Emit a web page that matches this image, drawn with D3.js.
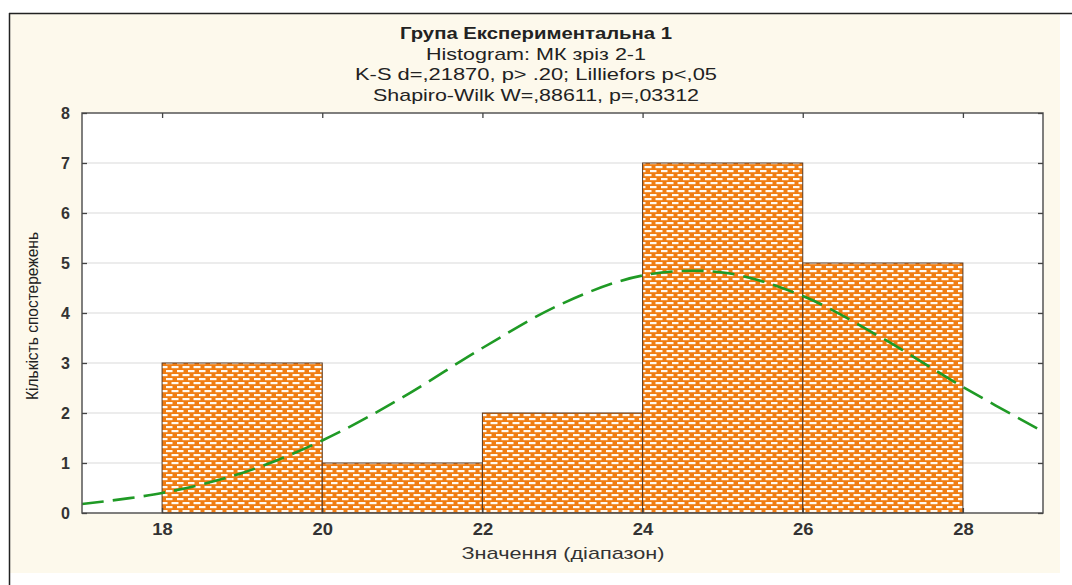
<!DOCTYPE html>
<html>
<head>
<meta charset="utf-8">
<script src="https://cdn.jsdelivr.net/npm/d3@7"></script>
<style>
  body { margin: 0; background: #fff; }
  svg { display: block; }
  text { font-family: "Liberation Sans", Arial, sans-serif; }
</style>
</head>
<body>
<div class="wrap"></div>
<script>
// histogram bins (lower edge, upper edge, count)
const binStart = [18, 20, 22, 24, 26]
const binEnd = [20, 22, 24, 26, 28]
const binCount = [3, 1, 2, 7, 5]

// expected normal curve
const curveX = [17, 18, 19, 20, 21, 22, 23, 24, 25, 26, 27, 28, 29]
const curveY = [0.18, 0.40, 0.80, 1.45, 2.31, 3.30, 4.19, 4.75, 4.81, 4.34, 3.49, 2.52, 1.63]

const xTicks = [18, 20, 22, 24, 26, 28]
const yTicks = [0, 1, 2, 3, 4, 5, 6, 7, 8]

const titleLines = [
  'Група Експериментальна 1',
  'Histogram: МК зріз 2-1',
  'K-S d=,21870, p> .20; Lilliefors p<,05',
  'Shapiro-Wilk W=,88611, p=,03312'
]
const xTitle = 'Значення (діапазон)'
const yTitle = 'Кількість спостережень'

const width = 1072, height = 585
const plot = {left: 82, right: 1043, top: 113, bottom: 513}

// the source picture is stretched sideways, so texts get a fixed length
const titleLen = [272, 220, 362, 326]

let svg = d3.select('.wrap').append('svg')
  .attr('width', width)
  .attr('height', height)

// pattern for the bars: orange with white brick dashes
let defs = svg.append('defs')
let pat = defs.append('pattern')
  .attr('id', 'brick')
  .attr('patternUnits', 'userSpaceOnUse')
  .attr('x', 0).attr('y', 1)
  .attr('width', 11)
  .attr('height', 8)
pat.append('rect').attr('width', 11).attr('height', 8).attr('fill', '#f07d12')
pat.append('rect').attr('x', 1).attr('y', 1).attr('width', 6.5).attr('height', 2.2).attr('fill', '#fffaf2')
pat.append('rect').attr('x', 6.5).attr('y', 5).attr('width', 6.5).attr('height', 2.2).attr('fill', '#fffaf2')
pat.append('rect').attr('x', -4).attr('y', 5).attr('width', 6.5).attr('height', 2.2).attr('fill', '#fffaf2')

// cream panel + frame lines
svg.append('rect')
  .attr('x', 9).attr('y', 13)
  .attr('width', 1051).attr('height', 560)
  .attr('fill', '#fdf9ec')
svg.append('line')
  .attr('x1', 9).attr('x2', 1072).attr('y1', 13.5).attr('y2', 13.5)
  .attr('stroke', '#222').attr('stroke-width', 1.5)
svg.append('line')
  .attr('x1', 9.5).attr('x2', 9.5).attr('y1', 13).attr('y2', 585)
  .attr('stroke', '#222').attr('stroke-width', 1.5)

let x = d3.scaleLinear().domain([17, 29]).range([plot.left, plot.right])
let y = d3.scaleLinear().domain([0, 8]).range([plot.bottom, plot.top])

// plot background
svg.append('rect')
  .attr('x', plot.left).attr('y', plot.top)
  .attr('width', plot.right - plot.left).attr('height', plot.bottom - plot.top)
  .attr('fill', '#fff')

// grid
svg.append('g')
  .selectAll('line')
  .data(yTicks.slice(1, -1))
  .enter()
  .append('line')
  .attr('x1', plot.left).attr('x2', plot.right)
  .attr('y1', d => y(d)).attr('y2', d => y(d))
  .attr('stroke', '#d9d9d9')
  .attr('stroke-width', 1.2)

// bars
svg.append('g')
  .selectAll('rect')
  .data(binCount)
  .enter()
  .append('rect')
  .attr('x', (d, i) => x(binStart[i]))
  .attr('width', (d, i) => x(binEnd[i]) - x(binStart[i]))
  .attr('y', d => y(d))
  .attr('height', d => y(0) - y(d))
  .attr('fill', 'url(#brick)')
  .attr('stroke', '#5a3a22')
  .attr('stroke-width', 1)

// fitted normal curve
let line = d3.line()
  .x((d, i) => x(curveX[i]))
  .y(d => y(d))
  .curve(d3.curveCatmullRom)

svg.append('path')
  .datum(curveY)
  .attr('d', line)
  .attr('fill', 'none')
  .attr('stroke', '#1f9a25')
  .attr('stroke-width', 2.6)
  .attr('stroke-dasharray', '22,9')

// frame with inward ticks on all sides
svg.append('rect')
  .attr('x', plot.left).attr('y', plot.top)
  .attr('width', plot.right - plot.left).attr('height', plot.bottom - plot.top)
  .attr('fill', 'none')
  .attr('stroke', '#555')
  .attr('stroke-width', 1.5)

let axisLeft = d3.axisLeft(y).tickValues(yTicks).tickSize(-5).tickPadding(12)
let axisRight = d3.axisRight(y).tickValues(yTicks).tickSize(-5).tickFormat('')
let axisBottom = d3.axisBottom(x).tickValues(xTicks).tickSize(-5).tickPadding(11)
let axisTop = d3.axisTop(x).tickValues(xTicks).tickSize(-5).tickFormat('')

let gl = svg.append('g').attr('transform', `translate(${plot.left},0)`).call(axisLeft)
let gr = svg.append('g').attr('transform', `translate(${plot.right},0)`).call(axisRight)
let gb = svg.append('g').attr('transform', `translate(0,${plot.bottom})`).call(axisBottom)
let gt = svg.append('g').attr('transform', `translate(0,${plot.top})`).call(axisTop)

;[gl, gr, gb, gt].forEach(g => {
  g.select('.domain').remove()
  g.selectAll('.tick line').attr('stroke', '#444').attr('stroke-width', 1.3)
  g.selectAll('.tick text')
    .attr('fill', '#333')
    .style('font-family', '"Liberation Sans", Arial, sans-serif')
    .style('font-size', '16px')
    .style('font-weight', 'bold')
})
gb.selectAll('.tick text').attr('transform', 'scale(1.15,1)').attr('x', 0)
gb.selectAll('.tick').each(function (d) {
  d3.select(this).select('text').attr('transform', 'scale(1.15,1)')
})

// titles
svg.append('g')
  .selectAll('text')
  .data(titleLines)
  .enter()
  .append('text')
  .attr('x', 536)
  .attr('y', (d, i) => 39 + i * 20.5)
  .attr('text-anchor', 'middle')
  .attr('fill', '#222')
  .attr('textLength', (d, i) => titleLen[i])
  .attr('lengthAdjust', 'spacingAndGlyphs')
  .style('font-size', '17px')
  .style('font-weight', (d, i) => i == 0 ? 'bold' : 'normal')
  .text(d => d)

svg.append('text')
  .attr('x', 563)
  .attr('y', 559)
  .attr('text-anchor', 'middle')
  .attr('fill', '#333')
  .attr('textLength', 203)
  .attr('lengthAdjust', 'spacingAndGlyphs')
  .style('font-size', '17px')
  .text(xTitle)

svg.append('text')
  .attr('transform', 'translate(38,316) rotate(-90)')
  .attr('text-anchor', 'middle')
  .attr('fill', '#222')
  .attr('textLength', 168)
  .attr('lengthAdjust', 'spacingAndGlyphs')
  .style('font-family', '"Liberation Sans Narrow", "Liberation Sans", Arial, sans-serif')
  .style('font-size', '16px')
  .text(yTitle)
</script>
</body>
</html>
